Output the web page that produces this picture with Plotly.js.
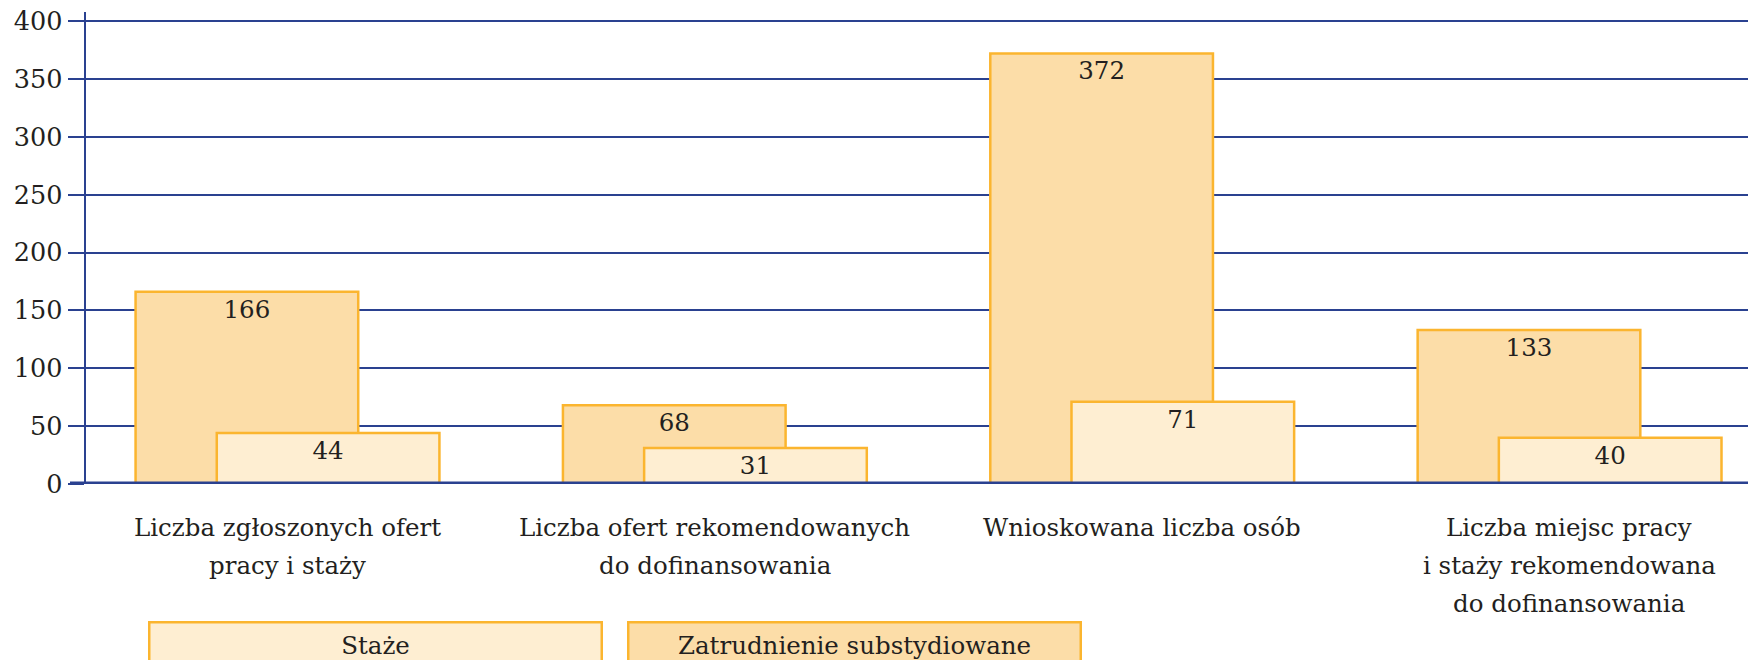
<!DOCTYPE html>
<html>
<head>
<meta charset="utf-8">
<script src="https://cdn.plot.ly/plotly-3.0.1.min.js"></script>
<style>
  html, body { margin: 0; padding: 0; background: #ffffff; }
  #chart { width: 1748px; height: 660px; }
</style>
</head>
<body>
<div id="chart"></div>
<script>
// ---- data ----
const categories = [
  "Liczba zgłoszonych ofert\npracy i staży",
  "Liczba ofert rekomendowanych\ndo dofinansowania",
  "Wnioskowana liczba osób",
  "Liczba miejsc pracy\ni staży rekomendowana\ndo dofinansowania"
];
const zatrudnienieSubstydiowane = [166, 68, 372, 133];
const staze = [44, 31, 71, 40];
const seriesNames = ["Staże", "Zatrudnienie substydiowane"];
const yTicks = [0, 50, 100, 150, 200, 250, 300, 350, 400];

// ---- style ----
const FONT = "DejaVu Serif";
const TEXT = "#231f20";
const BLUE = "#2a4190";
const ORANGE = "#fbb52f";
const FILL_BACK = "#fcdda8";
const FILL_FRONT = "#feeed2";
const FS = 24.5;

const W = 1748, H = 660;
const mL = 86, mR = 0, mT = 12, mB = 176;
const plotH = H - mT - mB;
const plotW = W - mL - mR;
const pyToPaper = py => (H - mB - py) / plotH;
const pxToPaper = px => (px - mL) / plotW;

const barWidth = 0.521;

const traces = [
  {
    type: "bar",
    name: seriesNames[1],
    x: categories,
    y: zatrudnienieSubstydiowane,
    width: barWidth,
    offset: -0.355,
    marker: { color: FILL_BACK, line: { color: ORANGE, width: 2.5 } },
    text: zatrudnienieSubstydiowane.map(String),
    textposition: "inside",
    insidetextanchor: "end",
    textangle: 0,
    constraintext: "none",
    textfont: { family: FONT, size: FS, color: TEXT },
    hoverinfo: "skip",
    showlegend: false
  },
  {
    type: "bar",
    name: seriesNames[0],
    x: categories,
    y: staze,
    width: barWidth,
    offset: -0.165,
    marker: { color: FILL_FRONT, line: { color: ORANGE, width: 2.5 } },
    text: staze.map(String),
    textposition: "inside",
    insidetextanchor: "end",
    textangle: 0,
    constraintext: "none",
    textfont: { family: FONT, size: FS, color: TEXT },
    hoverinfo: "skip",
    showlegend: false
  }
];

// category labels as annotations (one per line, to get the wide line spacing)
const annotations = [];
const firstLineY = 527, lineStep = 38;
categories.forEach((c, i) => {
  c.split("\n").forEach((line, j) => {
    annotations.push({
      xref: "x", yref: "paper",
      x: i, y: pyToPaper(firstLineY + j * lineStep),
      xanchor: "center", yanchor: "middle",
      text: line, showarrow: false,
      font: { family: FONT, size: FS, color: TEXT }
    });
  });
});

// legend boxes
const legendBoxes = [
  { name: seriesNames[0], fill: FILL_FRONT, cx: 375.5 },
  { name: seriesNames[1], fill: FILL_BACK, cx: 854.5 }
];
legendBoxes.forEach(b => {
  annotations.push({
    xref: "paper", yref: "paper",
    x: pxToPaper(b.cx), y: pyToPaper(645),
    xanchor: "center", yanchor: "middle",
    text: b.name, showarrow: false,
    width: 450, height: 44,
    align: "center", valign: "middle",
    bgcolor: b.fill, bordercolor: ORANGE, borderwidth: 2.5, borderpad: 0,
    font: { family: FONT, size: FS, color: TEXT }
  });
});

const layout = {
  width: W, height: H,
  margin: { l: mL, r: mR, t: mT, b: mB, pad: 0 },
  paper_bgcolor: "#ffffff",
  plot_bgcolor: "#ffffff",
  barmode: "overlay",
  showlegend: false,
  xaxis: {
    type: "category",
    range: [-0.471, 3.418],
    showticklabels: false,
    showgrid: false,
    zeroline: false,
    showline: false,
    ticks: "",
    fixedrange: true
  },
  yaxis: {
    range: [0, 407.8],
    tickvals: yTicks,
    ticktext: yTicks.map(String),
    showgrid: true,
    gridcolor: BLUE,
    gridwidth: 2,
    zeroline: false,
    showline: true,
    linecolor: BLUE,
    linewidth: 2.5,
    ticks: "outside",
    ticklen: 16,
    tickwidth: 2,
    tickcolor: BLUE,
    ticklabelstandoff: 0,
    tickfont: { family: FONT, size: 25.5, color: TEXT },
    fixedrange: true
  },
  shapes: [
    {
      type: "line", xref: "paper", yref: "y",
      x0: pxToPaper(70), x1: 1, y0: 0, y1: 0,
      line: { color: BLUE, width: 5 }
    }
  ],
  annotations: annotations
};

Plotly.newPlot("chart", traces, layout, { staticPlot: true, displayModeBar: false });
</script>
</body>
</html>
